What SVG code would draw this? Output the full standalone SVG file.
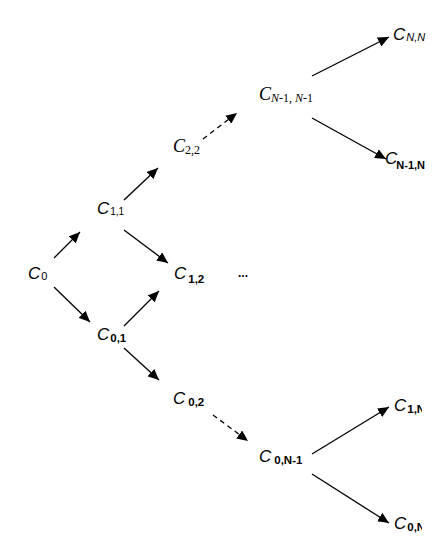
<svg xmlns="http://www.w3.org/2000/svg" width="443" height="545" viewBox="0 0 443 545">
<style>
.c{font-family:"Liberation Sans",Arial,sans-serif;font-style:italic;font-size:17px;fill:#000}
.t{font-family:"Liberation Serif","Times New Roman",serif;font-style:italic;font-size:18px;fill:#000}
.s{font-family:"Liberation Sans",Arial,sans-serif;font-style:normal;font-size:11px}
.si{font-family:"Liberation Sans",Arial,sans-serif;font-style:italic;font-size:11px}
.b{font-family:"Liberation Sans",Arial,sans-serif;font-style:normal;font-weight:bold;font-size:11.5px}
.ts{font-family:"Liberation Serif","Times New Roman",serif;font-style:normal;font-size:12px}
.ti{font-style:italic}
.e{stroke:#000;stroke-width:1.3;fill:none;marker-end:url(#ah)}
.d{stroke-dasharray:5,4}
</style>
<defs>
<marker id="ah" markerUnits="userSpaceOnUse" markerWidth="12" markerHeight="10" refX="11" refY="5" orient="auto">
<path d="M0,0 L11,5 L0,10 Z" fill="#000"/>
</marker>
<clipPath id="cut"><rect x="0" y="0" width="422" height="545"/></clipPath>
</defs>
<rect width="443" height="545" fill="#fff"/>
<g id="connectors">
<line class="e" x1="54" y1="258" x2="80" y2="232"/>
<line class="e" x1="54" y1="287" x2="90" y2="322"/>
<line class="e" x1="124" y1="200" x2="158" y2="168"/>
<line class="e" x1="124" y1="230" x2="168" y2="263"/>
<line class="e" x1="124" y1="326" x2="159" y2="291"/>
<line class="e" x1="124" y1="348" x2="159" y2="380"/>
<line class="e d" x1="203" y1="139" x2="237" y2="113"/>
<line class="e d" x1="213" y1="415" x2="248" y2="441"/>
<line class="e" x1="312" y1="76" x2="389" y2="37"/>
<line class="e" x1="312" y1="118" x2="386" y2="159"/>
<line class="e" x1="312" y1="454" x2="389" y2="407"/>
<line class="e" x1="312" y1="474" x2="389" y2="523"/>
</g>
<g id="n-c0"><text class="c" x="28" y="279">C<tspan class="s" dx="1" dy="1">0</tspan></text></g>
<g id="n-c11"><text class="c" x="97" y="214">C<tspan class="s" style="font-size:10px" dx="1" dy="1">1,1</tspan></text></g>
<g id="n-c12"><text class="c" x="174" y="279">C<tspan class="b" dx="2" dy="4">1,2</tspan></text></g>
<g id="n-c22"><text class="t" x="173" y="152">C<tspan class="ts" dy="2">2,2</tspan></text></g>
<g id="n-cn1n1"><text class="t" x="259" y="100">C<tspan class="ts" dy="2"><tspan class="ti">N</tspan>-1, <tspan class="ti">N</tspan>-1</tspan></text></g>
<g id="n-cnn"><text class="c" x="393" y="40">C<tspan class="si" dx="1" dy="1">N,N</tspan></text></g>
<g id="n-cn1n"><text class="c" x="385" y="164">C<tspan class="b" style="font-size:11px" dx="-1" dy="5">N-1,N</tspan></text></g>
<g id="n-c01"><text class="c" x="97" y="340">C<tspan class="b" dx="1" dy="2">0,1</tspan></text></g>
<g id="n-c02"><text class="c" x="173" y="404">C<tspan class="b" dx="3" dy="2">0,2</tspan></text></g>
<g id="n-c0n1"><text class="c" x="259" y="462">C<tspan class="b" dx="3" dy="2">0,N-1</tspan></text></g>
<g id="n-c1n" clip-path="url(#cut)"><text class="c" x="394" y="411">C<tspan class="b" dx="1" dy="2">1,N</tspan></text></g>
<g id="n-c0n" clip-path="url(#cut)"><text class="c" x="394" y="529">C<tspan class="b" dx="1" dy="2">0,N</tspan></text></g>
<g id="ellipsis"><text x="238" y="277" font-family="Liberation Sans,Arial,sans-serif" font-weight="bold" font-size="12">...</text></g>
</svg>
